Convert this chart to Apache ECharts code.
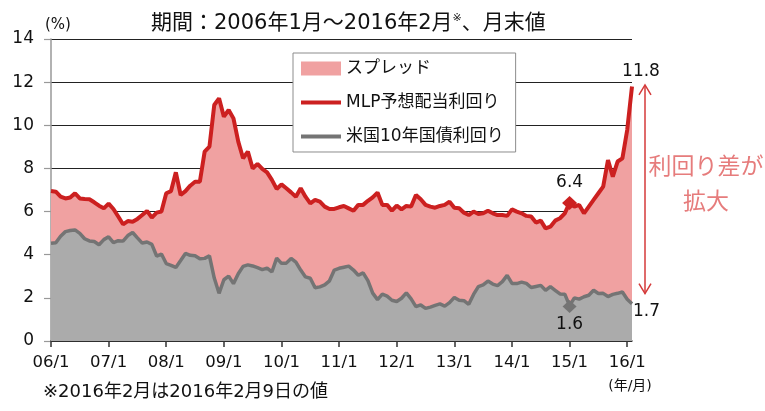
<!DOCTYPE html>
<html><head><meta charset="utf-8">
<script src="https://cdn.jsdelivr.net/npm/echarts@6/dist/echarts.min.js"></script>
<style>html,body{margin:0;padding:0;background:#fff}#c{width:765px;height:411px}</style>
</head><body><div id="c"></div>
<script>
// ---- data ----
const years = ['06','07','08','09','10','11','12','13','14','15','16'];
const mlpYield = [
  6.95, 6.92, 6.69, 6.61, 6.65, 6.85, 6.61, 6.58, 6.57, 6.43, 6.27, 6.15,
  6.37, 6.12, 5.77, 5.41, 5.56, 5.53, 5.66, 5.84, 6.03, 5.72, 5.95, 6.00,
  6.85, 6.95, 7.82, 6.77, 6.95, 7.20, 7.38, 7.38, 8.78, 9.01, 10.94, 11.25,
  10.40, 10.71, 10.32, 9.24, 8.47, 8.78, 8.00, 8.21, 7.98, 7.82, 7.47, 7.05,
  7.26, 7.08, 6.89, 6.69, 7.08, 6.69, 6.38, 6.54, 6.46, 6.23, 6.12, 6.12,
  6.20, 6.26, 6.15, 6.04, 6.31, 6.31, 6.50, 6.66, 6.88, 6.31, 6.31, 6.04,
  6.28, 6.10, 6.26, 6.23, 6.77, 6.57, 6.31, 6.23, 6.18, 6.26, 6.31, 6.46,
  6.18, 6.15, 5.95, 5.84, 6.00, 5.89, 5.92, 6.04, 5.92, 5.84, 5.84, 5.80,
  6.10, 6.00, 5.92, 5.80, 5.77, 5.49, 5.58, 5.22, 5.30, 5.58, 5.69, 5.92,
  6.40, 6.23, 6.31, 5.92, 6.23, 6.54, 6.85, 7.16, 8.39, 7.62, 8.32, 8.47,
  9.78, 11.80
];
const ustYield = [
  4.53, 4.55, 4.86, 5.07, 5.12, 5.15, 4.99, 4.74, 4.64, 4.61, 4.46, 4.70,
  4.83, 4.56, 4.65, 4.63, 4.89, 5.03, 4.78, 4.54, 4.59, 4.48, 3.94, 4.03,
  3.59, 3.51, 3.41, 3.73, 4.06, 3.97, 3.95, 3.81, 3.83, 3.95, 2.92, 2.21,
  2.84, 3.01, 2.66, 3.12, 3.46, 3.53, 3.48, 3.40, 3.31, 3.38, 3.20, 3.84,
  3.60, 3.61, 3.83, 3.66, 3.29, 2.97, 2.91, 2.47, 2.51, 2.60, 2.79, 3.29,
  3.37, 3.42, 3.47, 3.29, 3.05, 3.16, 2.80, 2.22, 1.92, 2.17, 2.08, 1.89,
  1.83, 1.98, 2.23, 1.95, 1.59, 1.67, 1.51, 1.57, 1.65, 1.72, 1.62, 1.78,
  2.02, 1.89, 1.87, 1.70, 2.16, 2.52, 2.60, 2.78, 2.64, 2.57, 2.75, 3.04,
  2.67, 2.66, 2.73, 2.67, 2.48, 2.53, 2.58, 2.35, 2.52, 2.35, 2.18, 2.17,
  1.64, 2.00, 1.94, 2.05, 2.12, 2.35, 2.20, 2.21, 2.06, 2.16, 2.21, 2.27,
  1.94, 1.73
];
const markIndex = 108;          // 15/1
const markMlp = 6.4;
const markUst = 1.6;
const lastMlpLabel = '11.8';
const lastUstLabel = '1.7';
const yMin = 0, yMax = 14, yStep = 2;

// ---- derived ----
const categories = [];
for (const yy of years) for (let m = 1; m <= 12; m++) categories.push(yy + '/' + m);
categories.length = mlpYield.length;
const spread = mlpYield.map((v, i) => +(v - ustYield[i]).toFixed(2));
const N = mlpYield.length - 1;

const FF = 'DejaVu Sans, Noto Sans CJK JP, sans-serif';
const PINK = '#f0a1a1', GAREA = '#ababab', RED = '#cc2020', GLINE = '#747474', ARROW = '#d43a3a';

const chart = echarts.init(document.getElementById('c'), null, {renderer: 'canvas'});
const option = {
  animation: false,
  backgroundColor: '#fff',
  textStyle: {fontFamily: FF},
  grid: {left: 51, right: 133, top: 39, bottom: 70, containLabel: false},
  legend: {
    orient: 'vertical', left: 293, top: 53,
    padding: [7, 12, 7, 8], itemGap: 17, itemWidth: 40, itemHeight: 14,
    backgroundColor: '#fff', borderColor: '#8c8c8c', borderWidth: 1,
    textStyle: {fontSize: 17, fontFamily: FF, color: '#111'},
    selectedMode: false,
    data: [
      {name: 'スプレッド', icon: 'rect', itemStyle: {color: PINK, borderWidth: 0}},
      {name: 'MLP予想配当利回り', icon: 'path://M0,0H40V4H0Z', itemStyle: {color: RED, borderWidth: 0}},
      {name: '米国10年国債利回り', icon: 'path://M0,0H40V4H0Z', itemStyle: {color: GLINE, borderWidth: 0}}
    ]
  },
  xAxis: {
    type: 'category', data: categories, boundaryGap: false,
    axisLine: {lineStyle: {color: '#333', width: 1.5}},
    axisTick: {interval: (i) => i % 12 === 0, length: 6, lineStyle: {color: '#333', width: 1.5}},
    axisLabel: {interval: (i) => i % 12 === 0, fontSize: 16.5, color: '#111', margin: 13, fontFamily: FF},
    splitLine: {show: false}
  },
  yAxis: {
    type: 'value', min: yMin, max: yMax, interval: yStep,
    axisLine: {show: true, lineStyle: {color: '#999', width: 1.5}},
    axisTick: {show: true, length: 7, lineStyle: {color: '#999', width: 1.2}},
    axisLabel: {fontSize: 17, color: '#111', margin: 17, fontFamily: FF},
    splitLine: {show: true, lineStyle: {color: '#222', width: 1.2}}
  },
  series: [
    {
      name: 'base', type: 'line', stack: 'a', data: ustYield, symbol: 'none',
      lineStyle: {width: 0, color: GAREA}, areaStyle: {color: GAREA, opacity: 1},
      emphasis: {disabled: true}, silent: true
    },
    {
      name: 'スプレッド', type: 'line', stack: 'a', data: spread, symbol: 'none',
      lineStyle: {width: 0, color: PINK}, itemStyle: {color: PINK},
      areaStyle: {color: PINK, opacity: 1},
      emphasis: {disabled: true}, silent: true
    },
    {
      name: '米国10年国債利回り', type: 'line', data: ustYield, symbol: 'none',
      lineStyle: {width: 3.5, color: GLINE}, itemStyle: {color: GLINE},
      emphasis: {disabled: true}, silent: true,
      markPoint: {
        silent: true,
        data: [
          {coord: [markIndex, markUst], symbol: 'diamond', symbolSize: [14, 13],
           itemStyle: {color: GLINE},
           label: {show: true, position: 'bottom', distance: 3, formatter: String(markUst), color: '#111', fontSize: 17, fontFamily: FF}},
          {coord: [N, ustYield[N]], symbol: 'circle', symbolSize: 0.1,
           itemStyle: {color: 'rgba(0,0,0,0)'},
           label: {show: true, position: 'right', distance: 1, offset: [0, 8], formatter: lastUstLabel, color: '#111', fontSize: 17, fontFamily: FF}}
        ]
      }
    },
    {
      name: 'MLP予想配当利回り', type: 'line', data: mlpYield, symbol: 'none',
      lineStyle: {width: 4, color: RED}, itemStyle: {color: RED},
      emphasis: {disabled: true}, silent: true,
      markPoint: {
        silent: true,
        data: [
          {coord: [markIndex, markMlp], symbol: 'diamond', symbolSize: [15, 14],
           itemStyle: {color: RED},
           label: {show: true, position: 'top', distance: 5, formatter: String(markMlp), color: '#111', fontSize: 17, fontFamily: FF}},
          {coord: [N, mlpYield[N]], symbol: 'circle', symbolSize: 0.1,
           itemStyle: {color: 'rgba(0,0,0,0)'},
           label: {show: true, position: 'top', distance: 6, offset: [9, 0], formatter: lastMlpLabel, color: '#111', fontSize: 17, fontFamily: FF}}
        ]
      }
    }
  ]
};
chart.setOption(option);

// ---- annotations positioned through the chart's own scales ----
const px = (i, v) => chart.convertToPixel({xAxisIndex: 0, yAxisIndex: 0}, [i, v]);
function dblArrow(x, yTop, yBot, color) {
  const w = 6, h = 10;
  return [
    {type: 'line', shape: {x1: x, y1: yTop, x2: x, y2: yBot}, style: {stroke: color, lineWidth: 1.5}, silent: true},
    {type: 'polyline', shape: {points: [[x - w, yTop + h], [x, yTop], [x + w, yTop + h]]}, style: {stroke: color, lineWidth: 1.5, fill: null}, silent: true},
    {type: 'polyline', shape: {points: [[x - w, yBot - h], [x, yBot], [x + w, yBot - h]]}, style: {stroke: color, lineWidth: 1.5, fill: null}, silent: true}
  ];
}
const sTop = px(markIndex, 5.9), sBot = px(markIndex, 2.05);
const bTop = px(N, 11.87), bBot = px(N, 2.2);
const bigX = bTop[0] + 13;
const top14 = px(0, yMax);
const graphics = []
  .concat(dblArrow(sTop[0], sTop[1], sBot[1], ARROW))
  .concat(dblArrow(bigX, bTop[1], bBot[1], ARROW))
  .concat([
    {type: 'text', left: 151, top: 13, silent: true,
     style: {text: '{a|期間：2006年1月～2016年2月}{s|※}{a|、月末値}', fill: '#111',
       rich: {a: {fontSize: 21, fontFamily: FF, fill: '#111'}, s: {fontSize: 11, fontFamily: FF, fill: '#111', verticalAlign: 'top', padding: [0, 0, 10, 0]}}}},
    {type: 'text', x: top14[0] - 6, y: top14[1] - 14, silent: true,
     style: {text: '(%)', fontSize: 15, fontFamily: FF, fill: '#111', verticalAlign: 'middle'}},
    {type: 'text', x: 630, y: 386, silent: true,
     style: {text: '(年/月)', fontSize: 14, fontFamily: FF, fill: '#111', align: 'center', verticalAlign: 'middle'}},
    {type: 'text', x: 43, y: 392, silent: true,
     style: {text: '※2016年2月は2016年2月9日の値', fontSize: 18, fontFamily: FF, fill: '#111', verticalAlign: 'middle'}},
    {type: 'text', x: 706, y: 186, silent: true,
     style: {text: '利回り差が\n拡大', fontSize: 23, lineHeight: 35, fontFamily: FF, fill: '#e67c7c', align: 'center', verticalAlign: 'middle'}}
  ]);
chart.setOption({graphic: {elements: graphics}});
</script>
</body></html>
